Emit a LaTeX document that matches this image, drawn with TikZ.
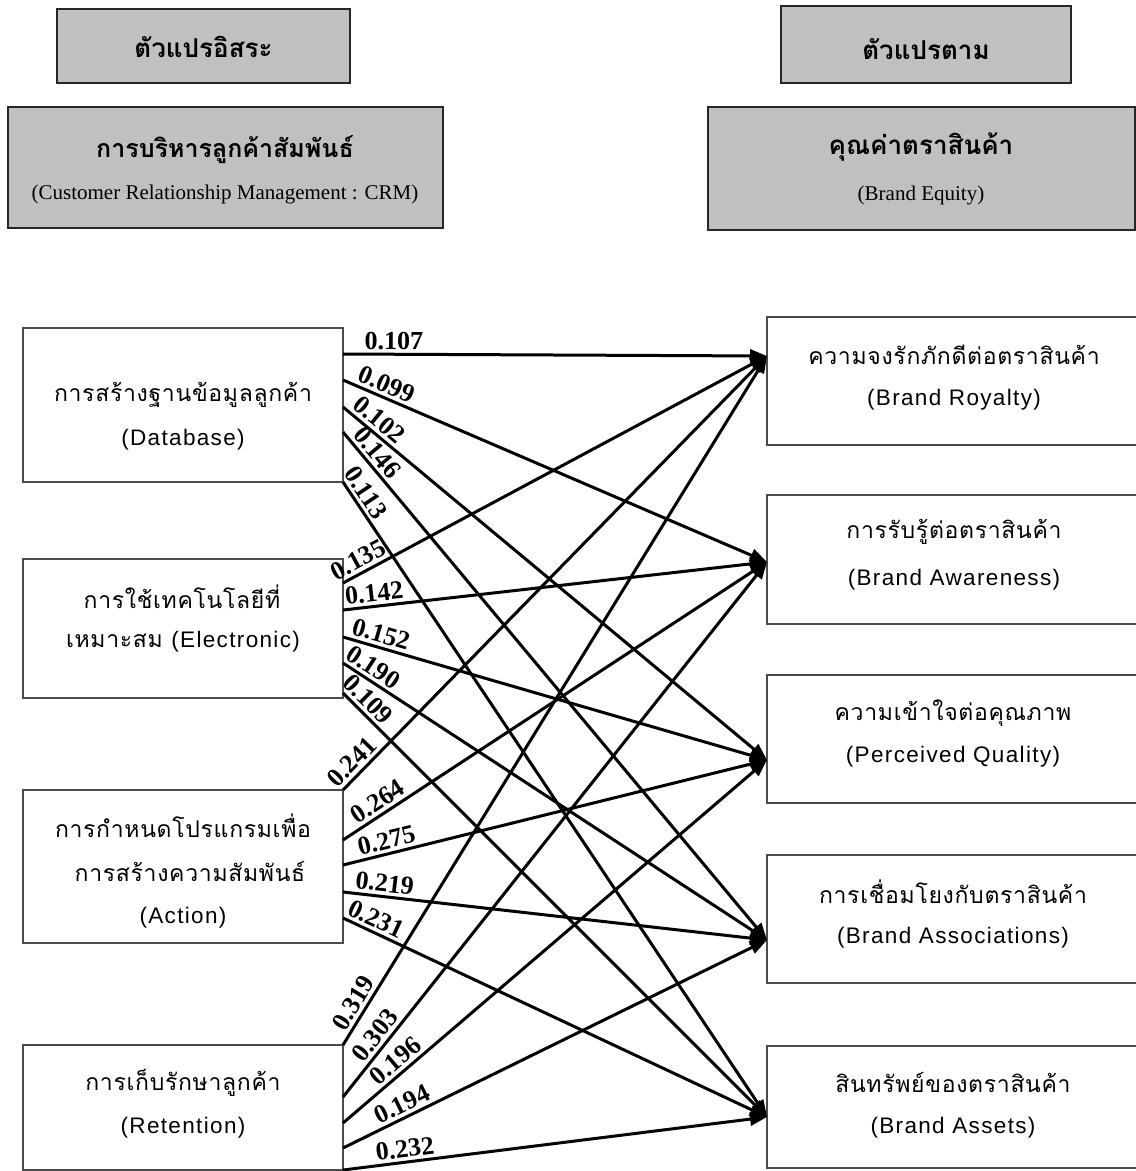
\documentclass[tikz,border=0pt]{standalone}
\usepackage{fontspec}
\setmainfont{Liberation Serif}
\newfontfamily\thaifont[Script=Thai]{Loma}
\newfontfamily\thaiboxfont[Script=Thai,LetterSpace=3]{Loma}
\newfontfamily\latinboxfont[LetterSpace=6]{Liberation Sans}
\usetikzlibrary{arrows.meta}
\definecolor{headgrey}{HTML}{C0C0C0}

% text styles
\newcommand\headthai{\thaifont\bfseries\fontsize{26}{30}\selectfont}
\newcommand\headlatin{\fontsize{21}{25}\selectfont}
\newcommand\boxthai{\thaiboxfont\fontsize{23}{27}\selectfont}
\newcommand\boxlatin{\latinboxfont\fontsize{22.5}{27}\selectfont}

\begin{document}
\begin{tikzpicture}[x=1pt,y=-1pt,
  headbox/.style={draw=black!85,line width=1.8pt,fill=headgrey,inner sep=0pt},
  varbox/.style={draw=black!70,line width=1.4pt,fill=white,inner sep=0pt},
  txt/.style={inner sep=0pt,anchor=center},
  link/.style={line width=3pt,black,-{Triangle[length=17pt,width=13pt]}},
  wlab/.style={sloped,above=2pt,inner sep=1pt,font=\bfseries\fontsize{26}{26}\selectfont}]

\fill[white] (0,0) rectangle (1136,1171);
\useasboundingbox (0,0) rectangle (1136,1171);

% ---- headings ----
\node[headbox,minimum width=293pt,minimum height=74pt] (hiv) at (203.5,46) {};
\node[txt] (hivt) at (203.5,47) {\headthai ตัวแปรอิสระ};

\node[headbox,minimum width=435pt,minimum height=121pt] (hcrm) at (225.5,167.5) {};
\node[txt] (hcrmt) at (225,150) {\headthai\fontsize{25}{30}\selectfont การบริหารลูกค้าสัมพันธ์};
\node[txt] (hcrme) at (225,194) {\headlatin (Customer Relationship Management : CRM)};

\node[headbox,minimum width=290pt,minimum height=77pt] (hdv) at (926,44.5) {};
\node[txt] (hdvt) at (926,49) {\headthai ตัวแปรตาม};

\node[headbox,minimum width=427pt,minimum height=123pt] (hbe) at (921.5,168.5) {};
\node[txt] (hbet) at (921,147) {\headthai คุณค่าตราสินค้า};
\node[txt] (hbee) at (921,195) {\headlatin (Brand Equity)};

% ---- independent variables ----
\node[varbox,minimum width=320pt,minimum height=154pt] (db) at (183,405) {};
\node[txt] (dbt) at (183,395) {\boxthai การสร้างฐานข้อมูลลูกค้า};
\node[txt] (dbe) at (183,440) {\boxlatin (Database)};

\node[varbox,minimum width=320pt,minimum height=139pt] (el) at (183,628.5) {};
\node[txt] (elt) at (182,597) {\boxthai การใช้เทคโนโลยีที่};
\node[txt] (ele) at (183,642) {\boxthai เหมาะสม {\boxlatin (Electronic)}};

\node[varbox,minimum width=320pt,minimum height=153pt] (ac) at (183,866.5) {};
\node[txt] (act1) at (183,826) {\boxthai การกำหนดโปรแกรมเพื่อ};
\node[txt] (act2) at (190,871) {\boxthai การสร้างความสัมพันธ์};
\node[txt] (ace) at (183,918) {\boxlatin (Action)};

\node[varbox,minimum width=320pt,minimum height=125pt] (rt) at (183,1107.5) {};
\node[txt] (rtt) at (183,1083) {\boxthai การเก็บรักษาลูกค้า};
\node[txt] (rte) at (183,1128) {\boxlatin (Retention)};

% ---- dependent variables ----
\node[varbox,minimum width=378pt,minimum height=128pt] (ry) at (956,381) {};
\node[txt] (ryt) at (954,355) {\boxthai ความจงรักภักดีต่อตราสินค้า};
\node[txt] (rye) at (954,400) {\boxlatin (Brand Royalty)};

\node[varbox,minimum width=378pt,minimum height=129pt] (aw) at (956,559.5) {};
\node[txt] (awt) at (954,532) {\boxthai การรับรู้ต่อตราสินค้า};
\node[txt] (awe) at (954,580) {\boxlatin (Brand Awareness)};

\node[varbox,minimum width=378pt,minimum height=128pt] (pq) at (956,739) {};
\node[txt] (pqt) at (953,713) {\boxthai ความเข้าใจต่อคุณภาพ};
\node[txt] (pqe) at (953,757) {\boxlatin (Perceived Quality)};

\node[varbox,minimum width=378pt,minimum height=128pt] (as) at (956,919) {};
\node[txt] (ast) at (953,892) {\boxthai การเชื่อมโยงกับตราสินค้า};
\node[txt] (ase) at (953,938) {\boxlatin (Brand Associations)};

\node[varbox,minimum width=378pt,minimum height=122pt] (at) at (956,1107) {};
\node[txt] (att) at (953,1082) {\boxthai สินทรัพย์ของตราสินค้า};
\node[txt] (ate) at (953,1128) {\boxlatin (Brand Assets)};

% ---- ports on the box edges ----
\coordinate (db1) at (343,354);  \coordinate (db2) at (343,380);
\coordinate (db3) at (343,407);  \coordinate (db4) at (343,432);
\coordinate (db5) at (343,482);
\coordinate (el1) at (343,583);  \coordinate (el2) at (343,610);
\coordinate (el3) at (343,637);  \coordinate (el4) at (343,663);
\coordinate (el5) at (343,693);
\coordinate (ac1) at (343,790);  \coordinate (ac2) at (343,840);
\coordinate (ac3) at (343,865);  \coordinate (ac4) at (343,892);
\coordinate (ac5) at (343,918);
\coordinate (rt1) at (343,1045); \coordinate (rt2) at (343,1097);
\coordinate (rt3) at (343,1123); \coordinate (rt4) at (343,1148);
\coordinate (rt5) at (343,1170);

\coordinate (ryin) at (767,356);
\coordinate (awin) at (767,562);
\coordinate (pqin) at (767,760);
\coordinate (asin) at (767,940);
\coordinate (atin) at (767,1117);

% ---- path coefficients ----
\draw[link] (db1) -- node[wlab,pos=0.12]{0.107} (ryin);
\draw[link] (db2) -- node[wlab,pos=0.09]{0.099} (awin);
\draw[link] (db3) -- node[wlab,pos=0.065]{0.102} (pqin);
\draw[link] (db4) -- node[wlab,pos=0.057]{0.146} (asin);
\draw[link] (db5) -- node[wlab,pos=0.028]{0.113} (atin);

\draw[link] (el1) -- node[wlab,pos=0.05]{0.135} (ryin);
\draw[link] (el2) -- node[wlab,pos=0.077]{0.142} (awin);
\draw[link] (el3) -- node[wlab,pos=0.081]{0.152} (pqin);
\draw[link] (el4) -- node[wlab,pos=0.055]{0.190} (asin);
\draw[link] (el5) -- node[wlab,pos=0.037]{0.109} (atin);

\draw[link] (ac1) -- node[wlab,pos=0.043]{0.241} (ryin);
\draw[link] (ac2) -- node[wlab,pos=0.099]{0.264} (awin);
\draw[link] (ac3) -- node[wlab,pos=0.11]{0.275} (pqin);
\draw[link] (ac4) -- node[wlab,pos=0.095]{0.219} (asin);
\draw[link] (ac5) -- node[wlab,pos=0.065]{0.231} (atin);

\draw[link] (rt1) -- node[wlab,pos=0.051]{0.319} (ryin);
\draw[link] (rt2) -- node[wlab,pos=0.10]{0.303} (awin);
\draw[link] (rt3) -- node[wlab,pos=0.144]{0.196} (pqin);
\draw[link] (rt4) -- node[wlab,pos=0.153]{0.194} (asin);
\draw[link] (rt5) -- node[wlab,pos=0.15]{0.232} (atin);

\end{tikzpicture}
\end{document}
